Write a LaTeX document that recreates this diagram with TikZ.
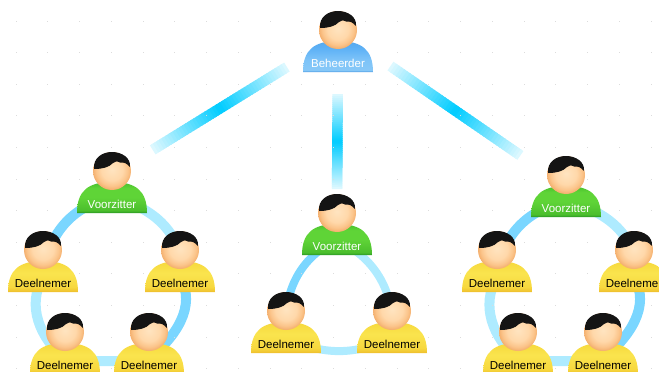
\documentclass[tikz,border=0pt]{standalone}
\usepackage{fontspec}
\setmainfont{Liberation Sans}
\usetikzlibrary{calc}
\pgfdeclarelayer{links}
\pgfsetlayers{links,main}

\definecolor{barcyan}{HTML}{00CCFF}
\definecolor{ringdark}{HTML}{7AD6FF}
\definecolor{ringlight}{HTML}{AEEBFF}
\definecolor{griddot}{HTML}{DCDCDC}
\definecolor{heada}{HTML}{FFE4C0}
\definecolor{headb}{HTML}{FFD8AA}
\definecolor{headc}{HTML}{FBC48A}
\definecolor{headd}{HTML}{F1A864}
\definecolor{bluea}{HTML}{4696E1}
\definecolor{blueb}{HTML}{87C8F8}
\definecolor{bluec}{HTML}{7DC3F8}
\definecolor{blued}{HTML}{5FB2F6}
\definecolor{bluee}{HTML}{55A8EE}
\definecolor{greena}{HTML}{289623}
\definecolor{greenb}{HTML}{4BBE2D}
\definecolor{greenc}{HTML}{5FD437}
\definecolor{greene}{HTML}{46BE2D}
\definecolor{yellowa}{HTML}{EEBE2D}
\definecolor{yellowb}{HTML}{F7D83E}
\definecolor{yellowc}{HTML}{FAE44E}
\definecolor{yellowe}{HTML}{F6D83C}

\pgfdeclareradialshading{headshade}{\pgfpoint{0bp}{2bp}}{%
    color(0bp)=(heada); color(14bp)=(headb); color(21bp)=(headc);
    color(27bp)=(headd); color(50bp)=(headd)}
\pgfdeclareverticalshading{blueshade}{100bp}{%
    color(0bp)=(bluea); color(25bp)=(bluea); color(28bp)=(blueb);
    color(45bp)=(bluec); color(62bp)=(blued); color(75bp)=(bluee); color(100bp)=(bluee)}
\pgfdeclareverticalshading{greenshade}{100bp}{%
    color(0bp)=(greena); color(25bp)=(greena); color(29bp)=(greenb);
    color(50bp)=(greenc); color(65bp)=(greenc); color(75bp)=(greene); color(100bp)=(greene)}
\pgfdeclareverticalshading{yellowshade}{100bp}{%
    color(0bp)=(yellowa); color(25bp)=(yellowa); color(33bp)=(yellowb);
    color(55bp)=(yellowc); color(75bp)=(yellowe); color(100bp)=(yellowe)}

% person: name, x, y of the bottom centre, body style, text colour, text
\newcommand{\person}[6]{%
    \begin{scope}[shift={(#2,#3)}]
        \shade[#4] (-35,0) .. controls (-35,-22) and (-24,-31) .. (0,-31)
            .. controls (24,-31) and (35,-22) .. (35,0) -- cycle;
        \node[personbox] (#1) at (0,-15) {};
        \node[personhead] (#1-head) at (0,-42) {};
        \fill[hairblob] (-18,-44) .. controls (-19,-55) and (-10,-61) .. (0,-61)
            .. controls (10,-61) and (19,-55) .. (18,-46)
            .. controls (15,-49.5) and (12,-51) .. (8,-50.5)
            .. controls (5,-52) and (3,-52) .. (1,-50)
            .. controls (-3,-45.5) and (-10,-44) .. cycle;
        \node[#5, persontext] (#1-text) at (0,-9) {#6};
    \end{scope}
}

% fading bar along the straight line between two points
\newcommand{\barlink}[4]{%
    \foreach \s in {0,...,47}{
        \pgfmathsetmacro{\ta}{#3+(#4-#3)*\s/48}
        \pgfmathsetmacro{\tb}{#3+(#4-#3)*min(\s+1.6,48)/48}
        \pgfmathsetmacro{\c}{100-88*abs(2*(\s+.5)/48-1)}
        \draw[barline, barcyan!\c!white] ($#1!\ta!#2$) -- ($#1!\tb!#2$);
    }
}

\tikzset{
    personbox/.style={minimum width=70pt,minimum height=30pt,inner sep=0pt},
    personhead/.style={circle,minimum size=38pt,inner sep=0pt,shading=headshade},
    persontext/.style={font=\fontsize{11.5}{12}\selectfont,inner sep=0pt},
    hairblob/.style={fill=black!92},
    bluebody/.style={shading=blueshade},
    greenbody/.style={shading=greenshade},
    yellowbody/.style={shading=yellowshade},
    barline/.style={line width=10.5pt},
    ringa/.style={line width=10pt,ringdark},
    ringb/.style={line width=10pt,ringlight},
}

\begin{document}
\begin{tikzpicture}[x=1pt,y=-1pt]
    \useasboundingbox (0,0) rectangle (659,372);

    \foreach \i in {0,...,20}{
        \foreach \j in {0,...,11}{
            \fill[griddot] ({16+31.75*\i-.5},{21+31.6*\j-.5}) rectangle +(1,1);
        }
    }

    \person{beh}{338}{72}{bluebody}{white}{Beheerder}

    \person{vza}{112}{213}{greenbody}{white}{Voorzitter}
    \person{da}{43}{292}{yellowbody}{black}{Deelnemer}
    \person{db}{180}{292}{yellowbody}{black}{Deelnemer}
    \person{dc}{65}{374}{yellowbody}{black}{Deelnemer}
    \person{dd}{149}{374}{yellowbody}{black}{Deelnemer}

    \person{vzb}{337}{255}{greenbody}{white}{Voorzitter}
    \person{ea}{286}{353}{yellowbody}{black}{Deelnemer}
    \person{eb}{392}{353}{yellowbody}{black}{Deelnemer}

    \person{vzc}{566}{217}{greenbody}{white}{Voorzitter}
    \person{fa}{497}{292}{yellowbody}{black}{Deelnemer}
    \person{fb}{634}{292}{yellowbody}{black}{Deelnemer}
    \person{fc}{518}{374}{yellowbody}{black}{Deelnemer}
    \person{fd}{603}{374}{yellowbody}{black}{Deelnemer}

    \begin{pgfonlayer}{links}
        \barlink{([yshift=-5.5pt]beh-head.center)}{([yshift=-4pt]vza-head.center)}{.226}{.82}
        \barlink{(beh-head.center)}{(vzb-head.center)}{.35}{.87}
        \barlink{(beh-head.center)}{(vzc.north)}{.23}{.80}

        \draw[ringa] (vza.center) to[out=190,in=85] (da.center);
        \draw[ringb] (da.center) to[out=-120,in=140] (dc.center);
        \draw[ringb] (dc.center) to[out=-5,in=185] (dd.center);
        \draw[ringa] (dd.center) to[out=40,in=-60] (db.center);
        \draw[ringb] (db.center) to[out=80,in=-10] (vza.center);

        \draw[ringa, line width=8pt] (vzb.center) to[out=205,in=95] (ea.center);
        \draw[ringb, line width=8pt] (ea.center) to[out=-25,in=205] (eb.center);
        \draw[ringb, line width=8pt] (eb.center) to[out=85,in=-25] (vzb.center);

        \draw[ringa] (vzc.center) to[out=190,in=85] (fa.center);
        \draw[ringb] (fa.center) to[out=-120,in=140] (fc.center);
        \draw[ringb] (fc.center) to[out=-5,in=185] (fd.center);
        \draw[ringa] (fd.center) to[out=40,in=-60] (fb.center);
        \draw[ringb] (fb.center) to[out=80,in=-10] (vzc.center);
    \end{pgfonlayer}
\end{tikzpicture}
\end{document}
